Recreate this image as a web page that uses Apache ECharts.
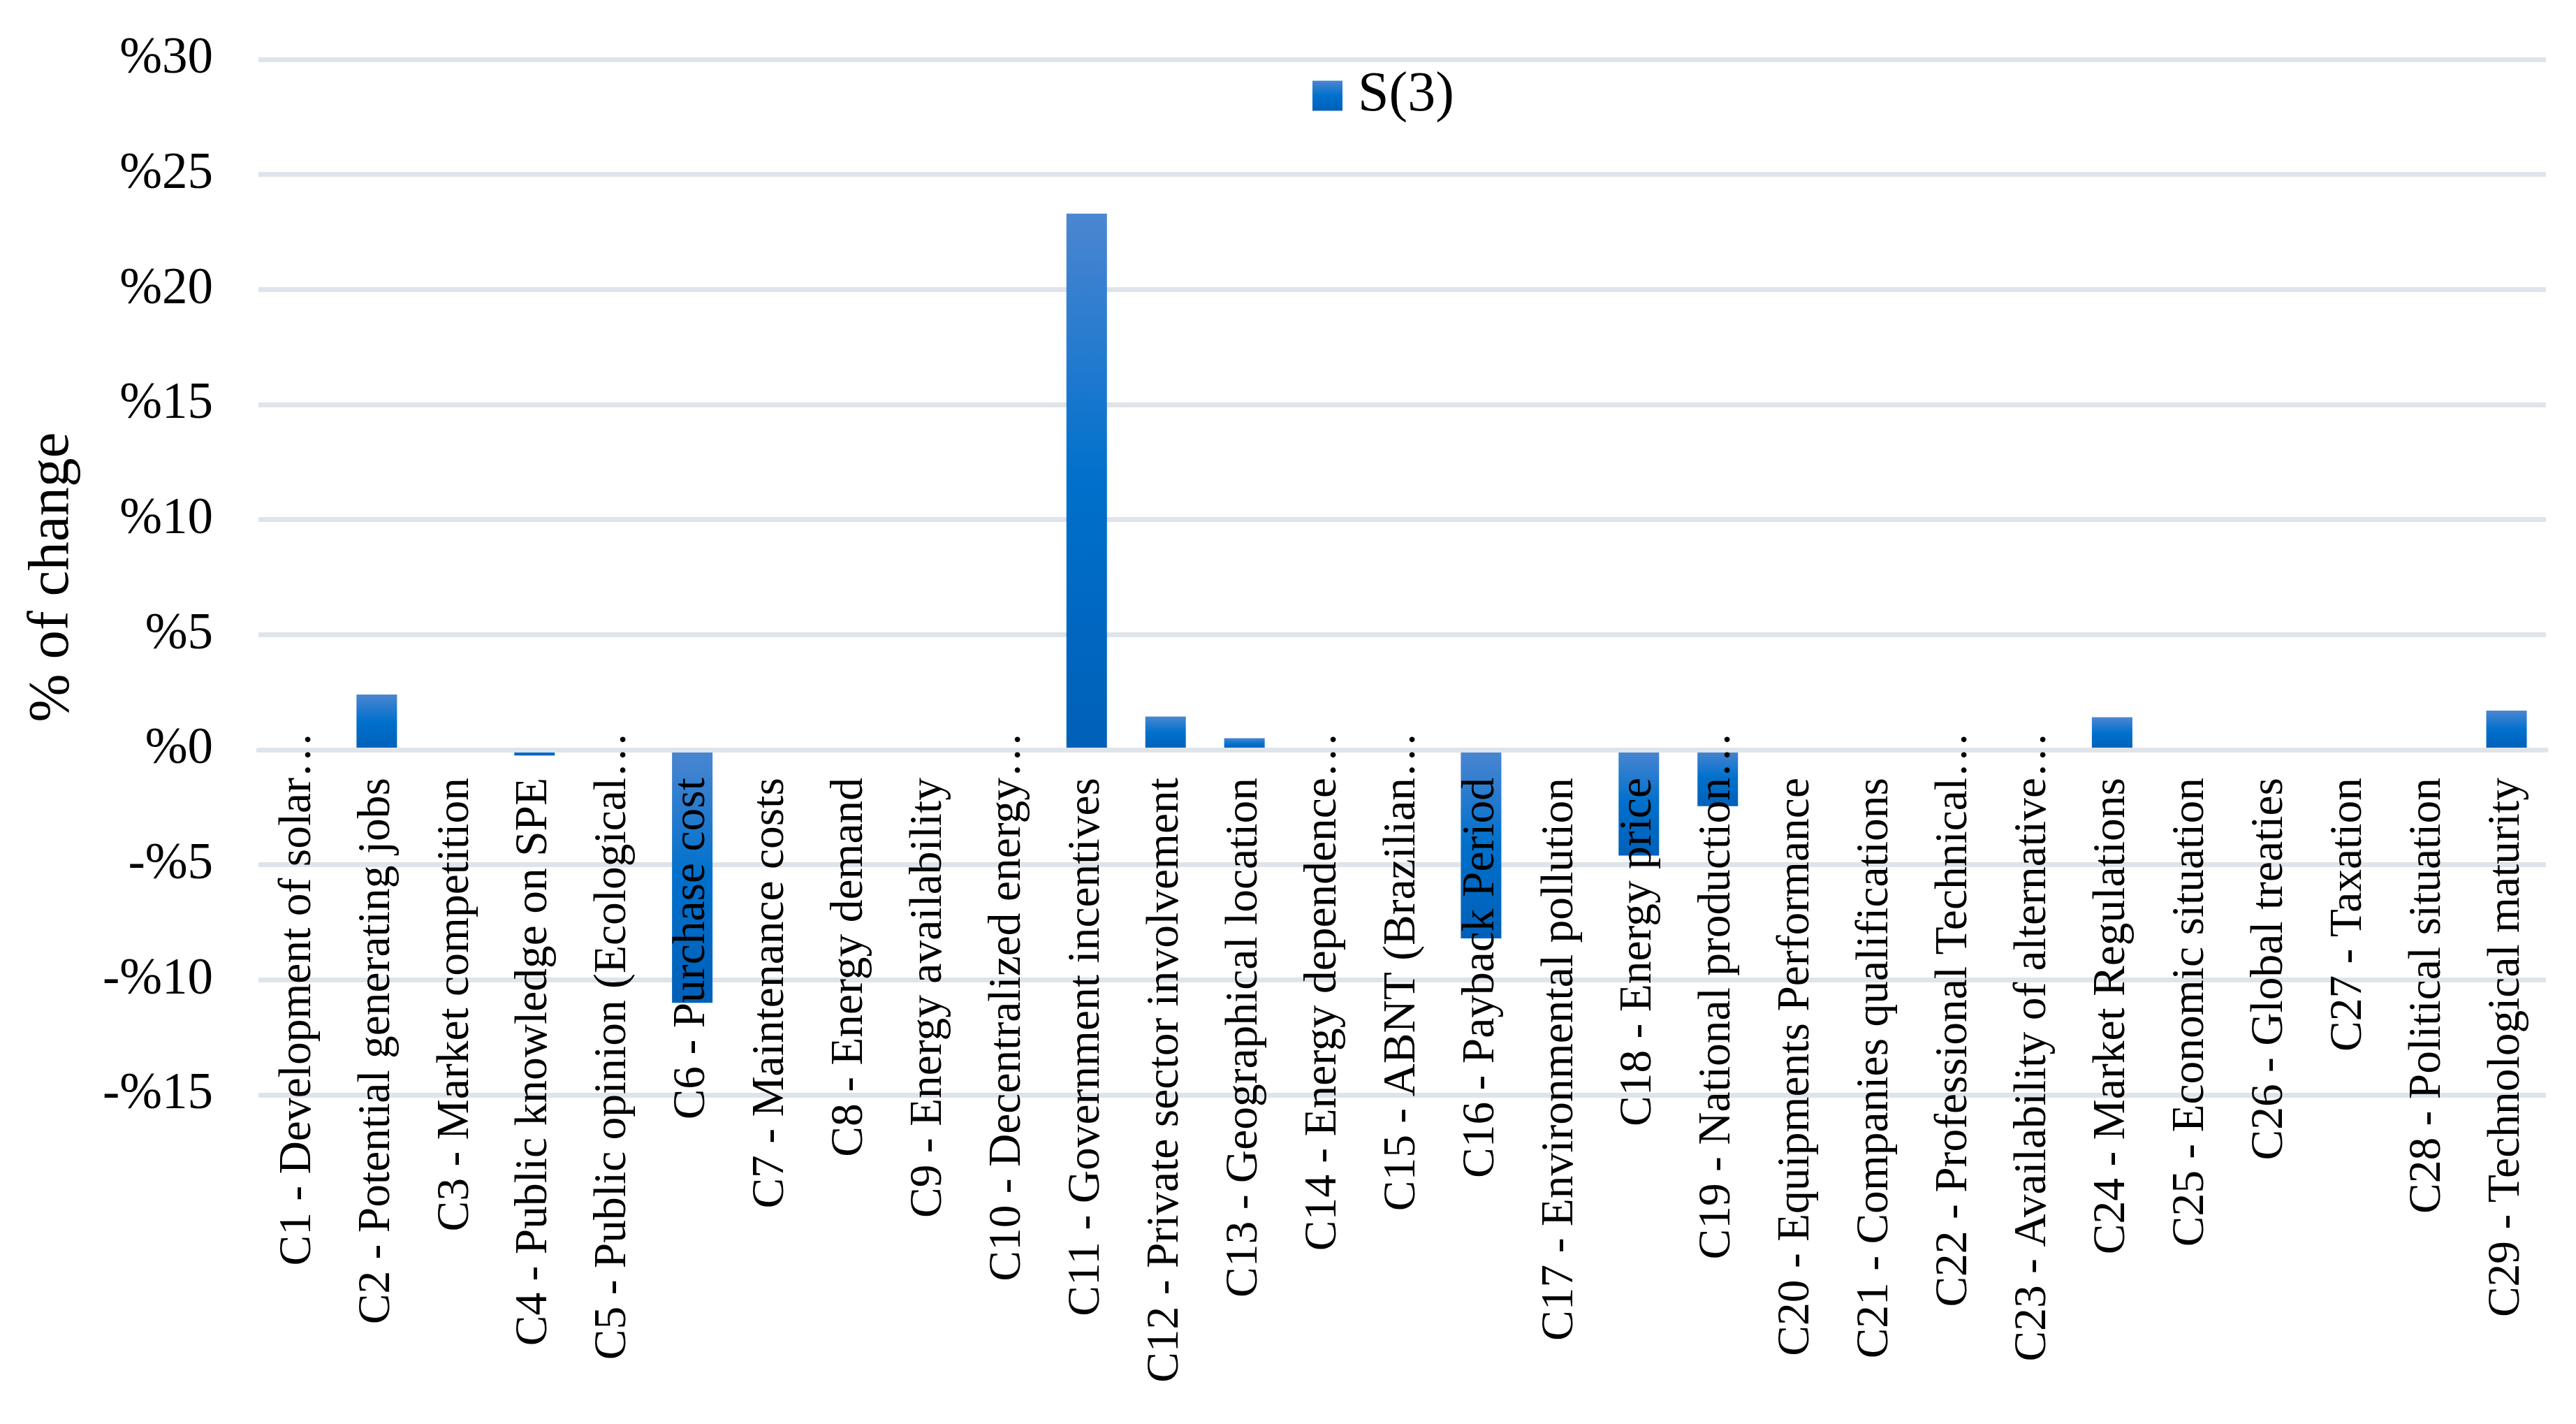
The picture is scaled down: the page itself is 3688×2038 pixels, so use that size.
<!DOCTYPE html>
<html>
<head>
<meta charset="utf-8">
<script src="https://cdn.jsdelivr.net/npm/echarts@6/dist/echarts.min.js"></script>
<style>
html,body{margin:0;padding:0;background:#fff;}
#chart{width:3688px;height:2038px;}
</style>
</head>
<body>
<div id="chart"></div>
<script>
const categories = [
  'C1 - Development of solar…',
  'C2 - Potential generating jobs',
  'C3 - Market competition',
  'C4 - Public knowledge on SPE',
  'C5 - Public opinion (Ecological…',
  'C6 - Purchase cost',
  'C7 - Maintenance costs',
  'C8 - Energy demand',
  'C9 - Energy availability',
  'C10 - Decentralized energy…',
  'C11 - Government incentives',
  'C12 - Private sector involvement',
  'C13 - Geographical location',
  'C14 - Energy dependence…',
  'C15 - ABNT (Brazilian…',
  'C16 - Payback Period',
  'C17 - Environmental pollution',
  'C18 - Energy price',
  'C19 - National production…',
  'C20 - Equipments Performance',
  'C21 - Companies qualifications',
  'C22 - Professional Technical…',
  'C23 - Availability of alternative…',
  'C24 - Market Regulations',
  'C25 - Economic situation',
  'C26 - Global treaties',
  'C27 - Taxation',
  'C28 - Political situation',
  'C29 - Technological maturity'
];
const seriesName = 'S(3)';
const s3Values = [0, 2.4, 0, -0.25, 0, -11.0, 0, 0, 0, 0, 23.3, 1.44, 0.5, 0, 0, -8.2, 0, -4.6, -2.45, 0, 0, 0, 0, 1.41, 0, 0, 0, 0, 1.7];
const yAxisName = '% of change';
const yMin = -15, yMax = 30, yStep = 5;

const FONT = '"Times New Roman", "Liberation Serif", serif';
const W = 3688, H = 2038;
const gridTop = 85, gridBottom = 471;
const gridH = H - gridTop - gridBottom;
// distance from grid bottom edge up to the value 0
const zeroOffset = gridH * (0 - yMin) / (yMax - yMin);
const catFont = 65.5;
const labelGap = 40;

const chart = echarts.init(document.getElementById('chart'), null, {renderer: 'canvas'});

const barGradient = new echarts.graphic.LinearGradient(0, 0, 0, 1, [
  {offset: 0, color: '#4B86D1'},
  {offset: 0.5, color: '#0070CC'},
  {offset: 1, color: '#0060B8'}
]);

// truncated labels let their ellipsis hang past the common label edge
const xData = categories.map(function (c) {
  const truncated = c.endsWith('…');
  return truncated ? c : {value: c, textStyle: {padding: [0, catFont, 0, 0]}};
});

chart.setOption({
  animation: false,
  backgroundColor: '#ffffff',
  grid: {left: 370, right: 43, top: gridTop, bottom: gridBottom, containLabel: false, outerBoundsMode: 'none'},
  legend: {
    data: [seriesName],
    left: 1874,
    top: 92,
    itemWidth: 43,
    itemHeight: 43,
    icon: 'rect',
    textStyle: {fontFamily: FONT, fontSize: 80, color: '#000', padding: [0, 0, 0, 17]}
  },
  xAxis: {
    type: 'category',
    data: xData,
    z: 10,
    position: 'bottom',
    offset: -zeroOffset,
    axisLine: {show: true, onZero: false, lineStyle: {color: '#DEE4EA', width: 7}},
    axisTick: {show: false},
    splitLine: {show: false},
    axisLabel: {
      interval: 0,
      rotate: 90,
      margin: labelGap - catFont,
      hideOverlap: false,
      fontFamily: FONT,
      fontSize: catFont,
      color: '#000'
    }
  },
  yAxis: {
    type: 'value',
    min: yMin,
    max: yMax,
    interval: yStep,
    name: yAxisName,
    nameLocation: 'middle',
    nameGap: 253,
    nameTextStyle: {fontFamily: FONT, fontSize: 83, color: '#000'},
    axisLine: {show: false},
    axisTick: {show: false},
    splitLine: {show: true, lineStyle: {color: '#DEE4EA', width: 7}},
    axisLabel: {
      margin: 65,
      fontFamily: FONT,
      fontSize: 73,
      color: '#000',
      formatter: function (v) { return v < 0 ? '-%' + (-v) : '%' + v; }
    }
  },
  series: [{
    name: seriesName,
    type: 'bar',
    data: s3Values,
    barWidth: 58,
    itemStyle: {color: barGradient}
  }]
});
</script>
</body>
</html>
